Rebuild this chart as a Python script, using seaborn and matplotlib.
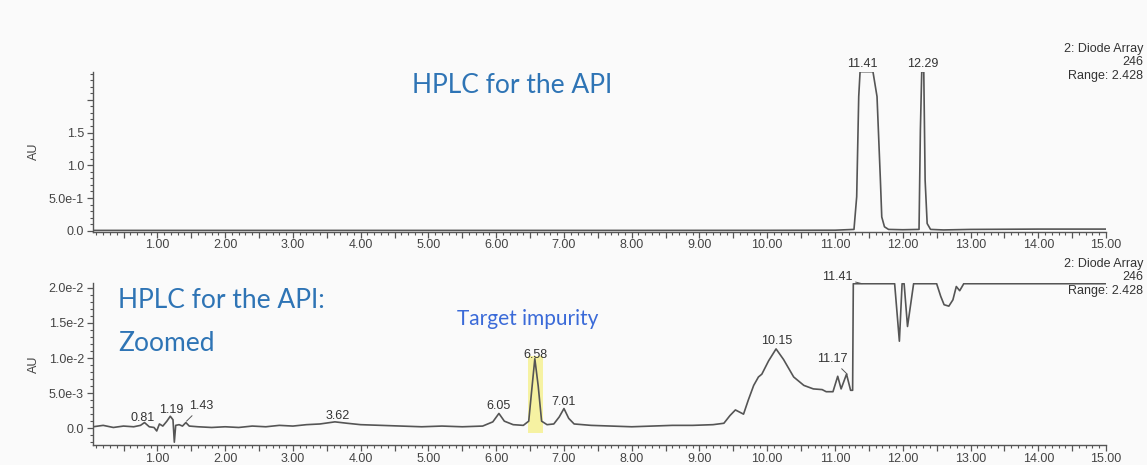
import matplotlib
matplotlib.use("Agg")
import matplotlib.pyplot as plt
import seaborn as sns
from matplotlib.ticker import MultipleLocator, FixedLocator, FuncFormatter

# Top trace: full-scale chromatogram (minutes, AU)
top_t = [0.05, 2.0, 4.0, 6.0, 8.0, 10.0, 11.0, 11.28, 11.32, 11.35, 11.37, 11.45,
         11.56, 11.62, 11.67, 11.69, 11.73, 11.79, 12.0, 12.24, 12.26, 12.28, 12.31,
         12.33, 12.36, 12.41, 12.6, 13.0, 14.0, 15.0]
top_v = [0.005, 0.005, 0.005, 0.005, 0.005, 0.006, 0.008, 0.02, 0.52, 2.05, 2.43, 2.43,
         2.43, 2.05, 0.77, 0.21, 0.06, 0.02, 0.015, 0.02, 1.54, 2.43, 2.43,
         0.77, 0.11, 0.02, 0.012, 0.02, 0.025, 0.025]
top_peaks = ["11.41", "12.29"]
top_peak_t = [11.40, 12.29]

# Bottom trace: zoomed chromatogram (minutes, AU)
bot_t = [0.05, 0.2, 0.35, 0.5, 0.65, 0.75, 0.81, 0.88, 0.95, 0.99, 1.03, 1.08, 1.14,
         1.19, 1.23, 1.25, 1.27, 1.32, 1.37, 1.42, 1.47, 1.6, 1.8, 2.0, 2.2, 2.4, 2.6,
         2.8, 3.0, 3.2, 3.4, 3.62, 3.8, 4.0, 4.3, 4.6, 4.9, 5.2, 5.5, 5.8, 5.95, 6.04,
         6.12, 6.25, 6.4, 6.48, 6.52, 6.57, 6.62, 6.67, 6.75, 6.85, 6.93, 7.0, 7.07,
         7.15, 7.4, 7.7, 8.0, 8.3, 8.6, 8.9, 9.2, 9.36, 9.45, 9.53, 9.65, 9.72, 9.80,
         9.87, 9.92, 10.02, 10.13, 10.24, 10.39, 10.54, 10.68, 10.81, 10.87, 10.97,
         11.04, 11.09, 11.17, 11.23, 11.26, 11.27, 11.88, 11.95, 11.99, 12.02, 12.07,
         12.16, 12.50, 12.56, 12.61, 12.68, 12.74, 12.79, 12.84, 12.90, 15.0]
bot_v = [0.0002, 0.0004, 0.0001, 0.0003, 0.0002, 0.0004, 0.0008, 0.0002, 0.0001,
         -0.0004, 0.0006, 0.0003, 0.0010, 0.0017, 0.0012, -0.0020, 0.0004, 0.0005,
         0.0003, 0.0008, 0.0003, 0.0002, 0.0001, 0.0002, 0.0001, 0.0003, 0.0002,
         0.0004, 0.0003, 0.0005, 0.0006, 0.0009, 0.0007, 0.0005, 0.0004, 0.0003,
         0.0002, 0.0003, 0.0002, 0.0003, 0.0009, 0.0021, 0.0010, 0.0005, 0.0004,
         0.0010, 0.0050, 0.0099, 0.0060, 0.0010, 0.0005, 0.0006, 0.0016, 0.0028,
         0.0014, 0.0006, 0.0004, 0.0003, 0.0002, 0.0003, 0.0004, 0.0004, 0.0005,
         0.0007, 0.0018, 0.0026, 0.0020, 0.0040, 0.0061, 0.0073, 0.0077, 0.0096,
         0.0113, 0.0098, 0.0073, 0.0061, 0.0056, 0.0055, 0.0052, 0.0052, 0.0074,
         0.0056, 0.0077, 0.0054, 0.0054, 0.0206, 0.0206, 0.0124, 0.0206, 0.0206,
         0.0145, 0.0206, 0.0206, 0.0188, 0.0176, 0.0174, 0.0183, 0.0202, 0.0196,
         0.0206, 0.0206]

# peak labels for the zoomed trace and where their text sits
bot_peaks = ["0.81", "1.19", "3.62", "6.05", "6.58", "7.01", "10.15"]
bot_label_t = [0.78, 1.21, 3.66, 6.03, 6.58, 6.99, 10.14]
bot_label_v = [0.0014, 0.0026, 0.0017, 0.0031, 0.0105, 0.0038, 0.0124]
# labels joined to the peak by a leader line
lead_peaks = ["1.43", "11.17", "11.41"]
lead_peak_t = [1.43, 11.18, 11.40]
lead_peak_v = [0.0010, 0.0077, 0.0206]
lead_label_t = [1.65, 10.96, 11.03]
lead_label_v = [0.0031, 0.0098, 0.0215]

target_t = 6.58

sns.set_theme(style="ticks")
plt.rcParams["font.family"] = ["Liberation Sans", "DejaVu Sans"]

bg = "#fafafa"
ink = "#555555"
fig = plt.figure(figsize=(11.47, 4.65), dpi=100, facecolor=bg)
ax1 = fig.add_axes([0.0811, 0.5017, 0.8832, 0.3441], facecolor=bg)
ax2 = fig.add_axes([0.0811, 0.0430, 0.8832, 0.3484], facecolor=bg)

sns.lineplot(x=top_t, y=top_v, ax=ax1, color=ink, lw=1.2, estimator=None)
sns.lineplot(x=bot_t, y=bot_v, ax=ax2, color=ink, lw=1.2, estimator=None)

ax1.set_ylim(-0.015, 2.43)
ax2.set_ylim(-0.0024, 0.0207)

xfmt = FuncFormatter(lambda v, p: f"{v:.2f}" if abs(v - round(v)) < 1e-6 else "")
for ax in (ax1, ax2):
    ax.set_xlim(0.05, 15.0)
    ax.xaxis.set_major_locator(MultipleLocator(0.5))
    ax.xaxis.set_major_formatter(xfmt)
    ax.xaxis.set_minor_locator(MultipleLocator(0.1))
    for s in ("top", "right"):
        ax.spines[s].set_visible(False)
    for s in ("left", "bottom"):
        ax.spines[s].set_color(ink)
        ax.spines[s].set_linewidth(1.0)
    ax.tick_params(which="major", length=4.5, width=0.9, color=ink, labelsize=9,
                   labelcolor="#444444", pad=2)
    ax.tick_params(axis="x", which="major", pad=1)
    ax.tick_params(which="minor", length=2.5, width=0.8, color=ink)
    ax.set_xlabel("")
    ax.set_ylabel("AU", fontsize=9, color="#444444")
    ax.yaxis.set_label_coords(-0.052, 0.5)
    ax.grid(False)

ax1.yaxis.set_major_locator(FixedLocator([0, 0.5, 1.0, 1.5, 2.0]))
ax1.set_yticklabels(["0.0", "5.0e-1", "1.0", "1.5", ""])
ax1.yaxis.set_minor_locator(MultipleLocator(0.1))
ax2.yaxis.set_major_locator(FixedLocator([0, 0.005, 0.01, 0.015, 0.02]))
ax2.set_yticklabels(["0.0", "5.0e-3", "1.0e-2", "1.5e-2", "2.0e-2"])
ax2.yaxis.set_minor_locator(MultipleLocator(0.001))

# peak labels
for lab, t in zip(top_peaks, top_peak_t):
    ax1.text(t, 2.55, lab, ha="center", va="center", fontsize=9, color="#333333",
             clip_on=False)
for lab, t, v in zip(bot_peaks, bot_label_t, bot_label_v):
    ax2.text(t, v, lab, ha="center", va="center", fontsize=9, color="#333333")
for lab, pt, pv, lt, lv in zip(lead_peaks, lead_peak_t, lead_peak_v, lead_label_t, lead_label_v):
    ax2.annotate(lab, xy=(pt, pv), xytext=(lt, lv), ha="center", va="center",
                 fontsize=9, color="#333333", annotation_clip=False,
                 arrowprops=dict(arrowstyle="-", color=ink, lw=0.7, shrinkA=0, shrinkB=0))

# highlight of the target impurity peak
ax2.fill_between([target_t - 0.11, target_t + 0.11], -0.0007, 0.0103,
                 color="#f6f08c", alpha=0.8, lw=0, zorder=0.5)

# detector info
for y in (0.9075, 0.445):
    fig.text(0.9965, y, "2: Diode Array\n246\nRange: 2.428", ha="right", va="top",
             fontsize=9, color="#333333", linespacing=1.15)

title_blue = "#2e74b5"
fig.text(0.359, 0.817, "HPLC for the API", fontsize=19, color=title_blue,
         family="Lato", va="center", ha="left")
fig.text(0.103, 0.353, "HPLC for the API:", fontsize=19, color=title_blue,
         family="Lato", va="center", ha="left")
fig.text(0.103, 0.262, "Zoomed", fontsize=19, color=title_blue,
         family="Lato", va="center", ha="left")
ax2.text(6.46, 0.0155, "Target impurity", fontsize=15, color="#3a6ad8",
         family="Lato", va="center", ha="center")

fig.savefig("out.png", dpi=100, facecolor=bg)
